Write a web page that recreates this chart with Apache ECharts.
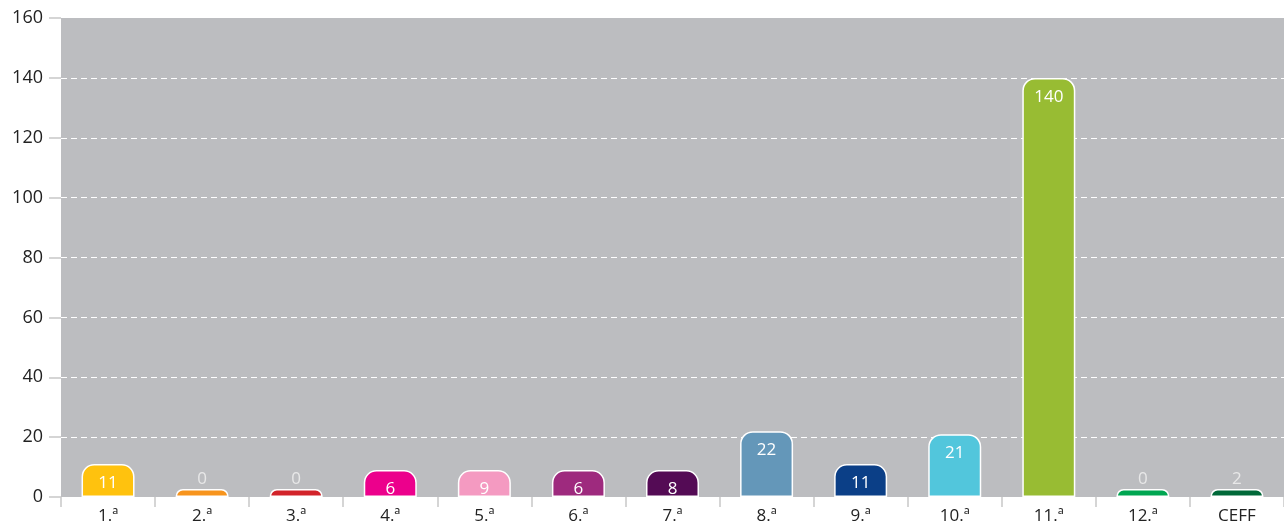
<!DOCTYPE html>
<html>
<head>
<meta charset="utf-8">
<script src="https://cdn.jsdelivr.net/npm/echarts@6/dist/echarts.min.js"></script>
<style>
html,body{margin:0;padding:0;background:#fff;}
#c{width:1284px;height:523px;}
</style>
</head>
<body>
<div id="c"></div>
<script>
const categories = ['1.ª','2.ª','3.ª','4.ª','5.ª','6.ª','7.ª','8.ª','9.ª','10.ª','11.ª','12.ª','CEFF'];
const values = [11, 0, 0, 6, 9, 6, 8, 22, 11, 21, 140, 0, 2];
const colors = ['#FFC20E','#F7941D','#D2232A','#EC008C','#F49AC1','#9E2A7E','#540B55','#6497B9','#0B3F87','#52C6DC','#98BC33','#00A651','#006838'];
const yTicks = { min: 0, max: 160, interval: 20 };
const SMALL = 5;

const font = '"Open Sans", "Noto Sans", sans-serif';
const bigData = values.map((v, i) => v >= SMALL ? { value: v, itemStyle: { color: colors[i] } } : '-');
const smallData = values.map((v, i) => v < SMALL ? { value: v, itemStyle: { color: colors[i] } } : '-');
const T = 'rgba(0,0,0,0)';
const splitColors = [T, '#fff', '#fff', '#fff', '#fff', '#fff', '#fff', '#fff', T];

const chart = echarts.init(document.getElementById('c'), null, { renderer: 'canvas' });
chart.setOption({
  animation: false,
  textStyle: { fontFamily: font },
  grid: { left: 61, right: 0, top: 18, bottom: 26, show: true, backgroundColor: '#BCBDC0', borderWidth: 0, containLabel: false, outerBoundsMode: 'none' },
  xAxis: {
    type: 'category',
    data: categories,
    axisLine: { show: false },
    axisTick: { show: true, length: 10, lineStyle: { color: '#c8c8c8', width: 1.5 } },
    axisLabel: { color: '#222', fontSize: 17, margin: 11, fontFamily: font }
  },
  yAxis: {
    type: 'value',
    min: yTicks.min, max: yTicks.max, interval: yTicks.interval,
    axisLine: { show: false },
    axisTick: { show: true, length: 12, lineStyle: { color: '#c8c8c8', width: 1.5 } },
    axisLabel: { color: '#222', fontSize: 18, margin: 18, fontFamily: font },
    splitLine: { show: true, lineStyle: { color: splitColors, type: [6, 4], width: 1 } }
  },
  series: [
    {
      type: 'bar', data: bigData, barWidth: 53, barGap: '-100%', barMinHeight: 27,
      itemStyle: { borderColor: '#fff', borderWidth: 1.5, borderRadius: [12, 12, 0, 0] },
      label: { show: true, position: 'insideTop', distance: 11, color: '#fff', fontSize: 17, fontFamily: font }
    },
    {
      type: 'bar', data: smallData, barWidth: 53, barGap: '-100%', barMinHeight: 8,
      itemStyle: { borderColor: '#fff', borderWidth: 1.5, borderRadius: [12, 12, 0, 0] },
      label: { show: true, position: 'top', distance: 1, color: '#e8e8e8', fontSize: 17, fontFamily: font }
    }
  ]
});
</script>
</body>
</html>
